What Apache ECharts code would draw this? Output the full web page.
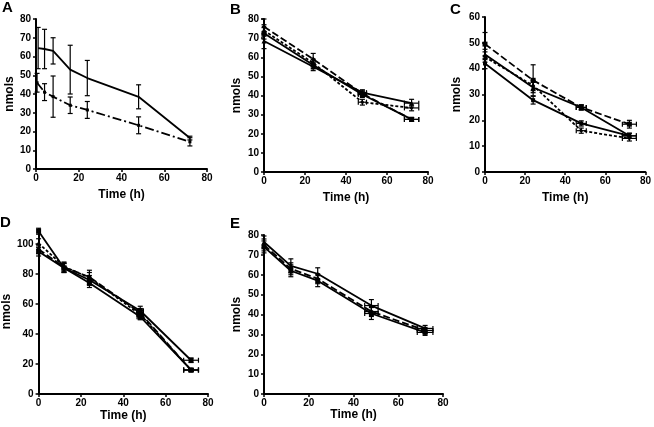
<!DOCTYPE html>
<html>
<head>
<meta charset="utf-8">
<script src="https://cdn.jsdelivr.net/npm/echarts@6/dist/echarts.min.js"></script>
<style>html,body{margin:0;padding:0;background:#fff}#c{width:654px;height:427px}</style>
</head>
<body>
<div id="c"></div>
<script>
// ---------- Data ----------
const xTicks = [0, 20, 40, 60, 80];

// Panel A
const timeA1 = [1, 4, 8, 16, 24, 48, 72];
const A_solid = [64.5, 64, 63, 53, 48.5, 38.5, 16.5];
const A_solidErr = [11, 10.5, 7, 13, 9.4, 6.4, 1];
const timeA2 = [0.5, 4, 8, 16, 24, 48, 72];
const A_dashdot = [46, 41, 38.6, 34, 31.5, 23.3, 14.5];
const A_dashdotErr = [5, 4.5, 11, 4.4, 4.5, 4.5, 2.2];

// Panel B
const timeB = [0, 24, 48, 72];
const B1 = [68.5, 55, 41.5, 36];
const B1err = [4, 2, 1.5, 2];
const B2 = [72.5, 56, 40.5, 27.5];
const B2err = [3, 2, 1.5, 1];
const B3 = [76, 59, 41, 27.5];
const B3err = [4, 3, 1.5, 1];
const B4 = [74, 57, 36.5, 33.5];
const B4err = [3, 2, 1.5, 1.5];
const B_xerr = [0, 0, 2, 3.5];

// Panel C
const timeC = [0, 24, 48, 72];
const C1 = [49.5, 35.5, 25, 18.5];
const C1err = [4.5, 6, 1, 1.5];
const C2 = [45.5, 32.7, 25, 14];
const C2err = [2, 2, 1, 1];
const C3 = [42, 27.8, 18.8, 14];
const C3err = [2, 1.5, 1, 1];
const C4 = [44.5, 33.5, 16, 13];
const C4err = [2, 2, 1, 1];
const C_xerr = [0, 0, 2.5, 3.5];

// Panel D
const timeD = [0, 12, 24, 48, 72];
const D1 = [108.5, 84, 76, 55.5, 22.5];
const D1err = [2, 3, 3, 3, 1.5];
const D2 = [95, 84, 74, 51.5, 16];
const D2err = [3, 3, 3, 2, 1];
const D3 = [100.5, 85, 77.5, 53, 16];
const D3err = [3, 3, 5, 3, 1];
const D4 = [96.5, 84.5, 78, 54, 16];
const D4err = [3, 3, 3, 3, 1];
const D_xerr = [0, 0, 0, 1.5, 3.5];

// Panel E
const timeE = [0, 12, 24, 48, 72];
const E1 = [76.5, 64.5, 60.5, 44.5, 33];
const E1err = [3, 3.5, 3, 3, 1.5];
const E2 = [74, 62, 57, 40.5, 31];
const E2err = [3, 3, 3, 3, 1.5];
const E3 = [75, 63, 58, 41.5, 32];
const E3err = [3, 3, 2.5, 2.5, 1.5];
const E_xerr = [0, 0, 0, 3, 3.5];

// ---------- Styles / layout ----------
const FONT = 'Liberation Sans, Arial, sans-serif';
const DASH = {solid: 'solid', long: [7, 3], short: [3, 2], dashdot: [9, 3, 2, 3]};

const grids = [
  {left: 36, top: 19, width: 171, height: 150},   // A
  {left: 264, top: 19, width: 164, height: 153},  // B
  {left: 485, top: 17, width: 163, height: 155},  // C
  {left: 36, top: 229, width: 172, height: 165},  // D
  {left: 264, top: 235, width: 179, height: 159}  // E
];
const yCfg = [
  {max: 80, interval: 10, gap: 20, ticks: [0,10,20,30,40,50,60,70,80]},
  {max: 80, interval: 10, gap: 21, ticks: [0,10,20,30,40,50,60,70,80]},
  {max: 60, interval: 10, gap: 22, ticks: [0,10,20,30,40,50,60]},
  {max: 110, interval: 10, gap: 21, ticks: [0,20,40,60,80,100]},
  {max: 80, interval: 10, gap: 21, ticks: [0,10,20,30,40,50,60,70,80]}
];
const xGap = [20, 20, 20, 16, 13];

const axisCommon = {
  axisLine: {show: true, onZero: false, lineStyle: {color: '#000', width: 2}},
  axisTick: {show: true, length: 3, lineStyle: {color: '#000', width: 1.5}},
  axisLabel: {color: '#000', fontWeight: 'bold', fontSize: 10, fontFamily: FONT},
  splitLine: {show: false},
  nameTextStyle: {color: '#000', fontWeight: 'bold', fontSize: 12, fontFamily: FONT}
};

const xAxes = grids.map((g, i) => Object.assign({}, JSON.parse(JSON.stringify(axisCommon)), {
  type: 'value', gridIndex: i, min: 0, max: 80, interval: 20,
  name: 'Time (h)', nameLocation: 'middle', nameGap: xGap[i],
  axisLabel: Object.assign({}, axisCommon.axisLabel, {margin: 4, customValues: xTicks}),
  axisTick: Object.assign({}, axisCommon.axisTick, {customValues: xTicks})
}));
const yAxes = yCfg.map((c, i) => Object.assign({}, JSON.parse(JSON.stringify(axisCommon)), {
  type: 'value', gridIndex: i, min: 0, max: c.max, interval: c.interval,
  name: 'nmols', nameLocation: 'middle', nameGap: c.gap,
  nameTextStyle: Object.assign({}, axisCommon.nameTextStyle, {fontSize: 12}),
  axisLabel: Object.assign({}, axisCommon.axisLabel, {margin: 5, customValues: c.ticks}),
  axisTick: Object.assign({}, axisCommon.axisTick, {customValues: c.ticks})
}));

const series = [];
function addSeries(gi, xs, ys, ey, ex, dash, symbol, symSize) {
  series.push({
    type: 'line', xAxisIndex: gi, yAxisIndex: gi,
    data: xs.map((x, k) => [x, ys[k]]),
    symbol: symbol, symbolSize: symSize, showSymbol: true,
    itemStyle: {color: '#000'},
    lineStyle: {color: '#000', width: 1.8, type: DASH[dash]},
    animation: false, z: 3
  });
  series.push({
    type: 'custom', xAxisIndex: gi, yAxisIndex: gi,
    data: xs.map((x, k) => [x, ys[k], ey ? ey[k] : 0, ex ? ex[k] : 0]),
    renderItem: function (params, api) {
      const x = api.value(0), y = api.value(1), e = api.value(2), h = api.value(3);
      const st = {stroke: '#000', lineWidth: 1.2};
      const ch = [];
      const cap = 2.5;
      if (e > 0) {
        const t = api.coord([x, y + e]), b = api.coord([x, y - e]);
        ch.push({type: 'line', shape: {x1: t[0], y1: t[1], x2: b[0], y2: b[1]}, style: st});
        ch.push({type: 'line', shape: {x1: t[0] - cap, y1: t[1], x2: t[0] + cap, y2: t[1]}, style: st});
        ch.push({type: 'line', shape: {x1: b[0] - cap, y1: b[1], x2: b[0] + cap, y2: b[1]}, style: st});
      }
      if (h > 0) {
        const l = api.coord([x - h, y]), r = api.coord([x + h, y]);
        ch.push({type: 'line', shape: {x1: l[0], y1: l[1], x2: r[0], y2: r[1]}, style: st});
        ch.push({type: 'line', shape: {x1: l[0], y1: l[1] - cap, x2: l[0], y2: l[1] + cap}, style: st});
        ch.push({type: 'line', shape: {x1: r[0], y1: r[1] - cap, x2: r[0], y2: r[1] + cap}, style: st});
      }
      return {type: 'group', children: ch};
    },
    animation: false, z: 4
  });
}

// A
addSeries(0, timeA1, A_solid, A_solidErr, null, 'solid', 'none', 0);
addSeries(0, timeA2, A_dashdot, A_dashdotErr, null, 'dashdot', 'rect', 3);
// B
addSeries(1, timeB, B1, B1err, B_xerr, 'solid', 'triangle', 5);
addSeries(1, timeB, B2, B2err, B_xerr, 'solid', 'rect', 5);
addSeries(1, timeB, B3, B3err, B_xerr, 'long', 'diamond', 5);
addSeries(1, timeB, B4, B4err, B_xerr, 'short', 'circle', 3);
// C
addSeries(2, timeC, C1, C1err, C_xerr, 'long', 'rect', 5);
addSeries(2, timeC, C2, C2err, C_xerr, 'solid', 'triangle', 5);
addSeries(2, timeC, C3, C3err, C_xerr, 'solid', 'rect', 4);
addSeries(2, timeC, C4, C4err, C_xerr, 'short', 'diamond', 4);
// D
addSeries(3, timeD, D1, D1err, D_xerr, 'solid', 'rect', 5);
addSeries(3, timeD, D2, D2err, D_xerr, 'solid', 'rect', 5);
addSeries(3, timeD, D3, D3err, D_xerr, 'short', 'triangle', 5);
addSeries(3, timeD, D4, D4err, D_xerr, 'long', 'diamond', 5);
// E
addSeries(4, timeE, E1, E1err, E_xerr, 'solid', 'triangle', 5);
addSeries(4, timeE, E2, E2err, E_xerr, 'solid', 'rect', 5);
addSeries(4, timeE, E3, E3err, E_xerr, 'long', 'diamond', 5);

const letters = [['A', 2, 0], ['B', 230, 2], ['C', 450, 2], ['D', 0, 215], ['E', 230, 216]];

const chart = echarts.init(document.getElementById('c'), null, {renderer: 'canvas'});
chart.setOption({
  backgroundColor: '#fff',
  animation: false,
  grid: grids,
  xAxis: xAxes,
  yAxis: yAxes,
  series: series,
  graphic: letters.map(l => ({
    type: 'text', left: l[1], top: l[2],
    style: {text: l[0], font: 'bold 15px ' + FONT, fill: '#000'}
  }))
});
</script>
</body>
</html>
